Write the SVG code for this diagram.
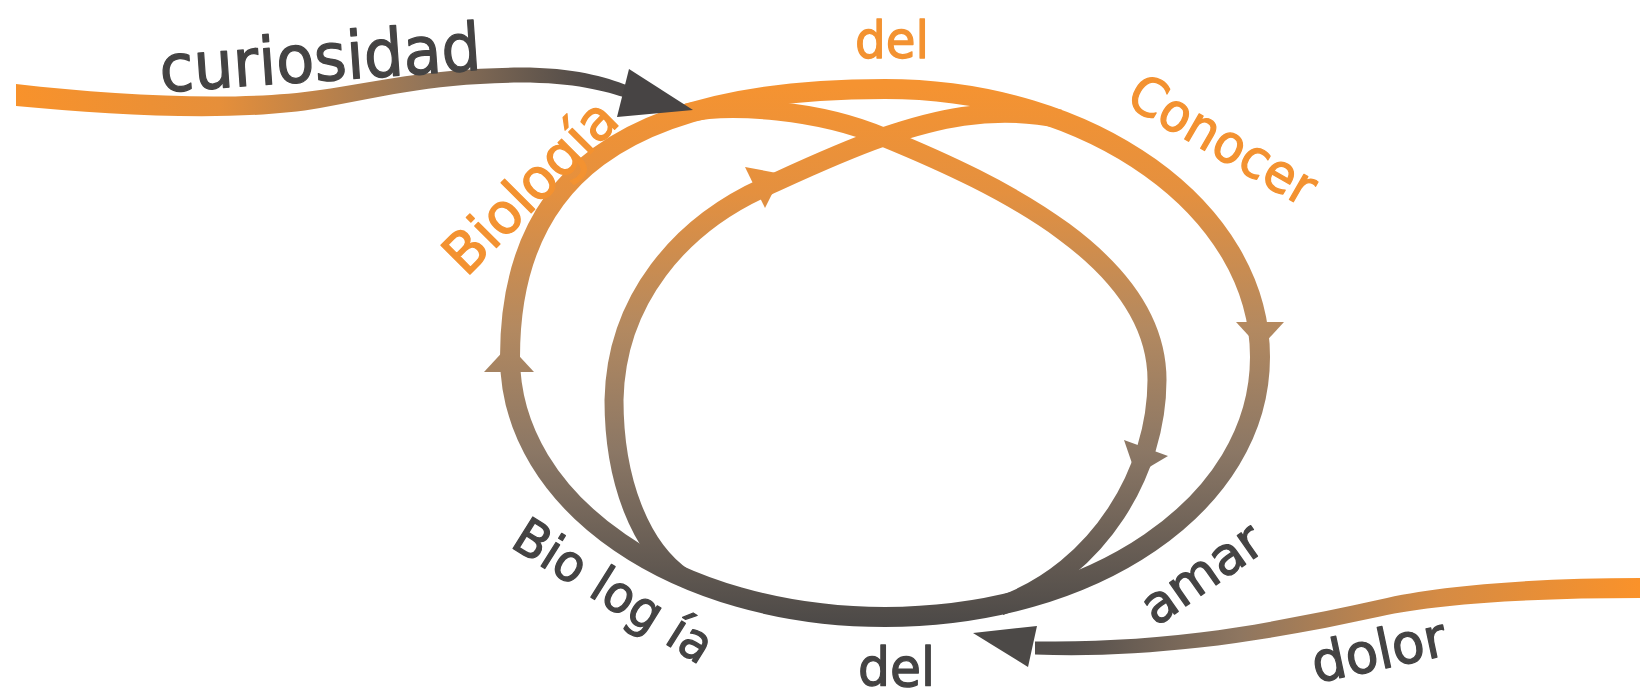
<svg xmlns="http://www.w3.org/2000/svg" width="1646" height="696" viewBox="0 0 1646 696">
<defs>
<linearGradient id="gv" gradientUnits="userSpaceOnUse" x1="0" y1="85" x2="0" y2="625">
<stop offset="0" stop-color="#f59331"/>
<stop offset="0.2" stop-color="#e4903f"/>
<stop offset="0.45" stop-color="#b38960"/>
<stop offset="0.68" stop-color="#8b7765"/>
<stop offset="1" stop-color="#4c4947"/>
</linearGradient>
<linearGradient id="gc" gradientUnits="userSpaceOnUse" x1="16" y1="0" x2="693" y2="0">
<stop offset="0" stop-color="#f8922b"/>
<stop offset="0.3" stop-color="#e68f3a"/>
<stop offset="0.6" stop-color="#937559"/>
<stop offset="0.85" stop-color="#4f4a48"/>
<stop offset="1" stop-color="#474444"/>
</linearGradient>
<linearGradient id="gd" gradientUnits="userSpaceOnUse" x1="1640" y1="0" x2="973" y2="0">
<stop offset="0" stop-color="#fa922a"/>
<stop offset="0.3" stop-color="#d58b44"/>
<stop offset="0.6" stop-color="#8e7660"/>
<stop offset="0.85" stop-color="#55504d"/>
<stop offset="1" stop-color="#4c4947"/>
</linearGradient>
<style>
.loop{fill:none;stroke:url(#gv);stroke-width:20}
.inner{stroke-width:19}
.head{fill:url(#gv)}
.lbl{font-family:"DejaVu Sans","Liberation Sans",sans-serif;stroke-width:1.3;stroke-linejoin:round}
.or{fill:#f39231;stroke:#f39231}
.dk{fill:#444343;stroke:#444343}
</style>
</defs>
<rect width="1646" height="696" fill="#ffffff"/>
<g id="connectors">
<path id="inner-a" class="loop inner" d="M687,113 C730,103 820,110 883,137 C1000,185 1157,260 1157,380 C1157,470 1100,570 1000,606"/>
<path id="inner-b" class="loop inner" d="M684,578 C640,548 614,480 614,400 C616,300 680,225 765,187 C800,171 840,152 883,137 C930,121 990,104 1060,119"/>
<path id="outer" class="loop" d="M885,89 C1092,89 1260,209 1260,357 C1260,505 1092,617 885,617 C678,617 510,505 510,357 C510,180 620,89 885,89 Z"/>
<polygon class="head" points="1236,322 1284,322 1260,348"/>
<polygon class="head" points="509,345 534,372 484,372"/>
<polygon class="head" points="1124,440 1168,456 1136,475"/>
<polygon class="head" points="745,167 782,174 765,208"/>
<g id="curiosidad-arrow">
<path fill="url(#gc)" d="M16,84 C120,96 240,102 320,90 C380,81 430,68.5 520,67.5 C575,67.5 605,77 628,85.5 L628,98.5 C605,91 575,82.5 520,82.5 C430,83.5 380,97 320,108 C240,122 120,116 16,106 Z"/>
<polygon fill="#474444" points="629,69 693,110 617,117"/>
</g>
<g id="dolor-arrow">
<path fill="url(#gd)" d="M1640,578 C1540,578 1440,585 1380,599.5 C1320,612.5 1260,625 1200,632.5 C1140,640 1090,641.5 1035,641.5 L1035,654.5 C1090,656.5 1140,654 1200,647.5 C1260,641 1320,629.5 1380,616.5 C1440,603 1540,598 1640,598 Z"/>
<polygon fill="#4c4947" points="973,633 1037,626 1028,667"/>
</g>
</g>
<g id="labels" class="lbl">
<text id="t-curiosidad" class="dk" font-size="66" textLength="322" lengthAdjust="spacingAndGlyphs" transform="translate(161,92) rotate(-4)">curiosidad</text>
<text id="t-biologia-top" class="or" font-size="56" textLength="220" lengthAdjust="spacingAndGlyphs" transform="translate(466,278) rotate(-45)">Biología</text>
<text id="t-del-top" class="or" font-size="52" textLength="74" lengthAdjust="spacingAndGlyphs" x="855" y="58">del</text>
<text id="t-conocer" class="or" font-size="53" textLength="207" lengthAdjust="spacingAndGlyphs" transform="translate(1124,104) rotate(30)">Conocer</text>
<text id="t-biologia-bottom" class="dk" font-size="51" textLength="225" lengthAdjust="spacingAndGlyphs" transform="translate(509,546) rotate(32)">Bio log ía</text>
<text id="t-del-bottom" class="dk" font-size="53" textLength="77" lengthAdjust="spacingAndGlyphs" x="858" y="686">del</text>
<text id="t-amar" class="dk" font-size="52" transform="translate(1156,627) rotate(-35)">amar</text>
<text id="t-dolor" class="dk" font-size="55" textLength="136" lengthAdjust="spacingAndGlyphs" transform="translate(1316,683) rotate(-12)">dolor</text>
</g>
</svg>
